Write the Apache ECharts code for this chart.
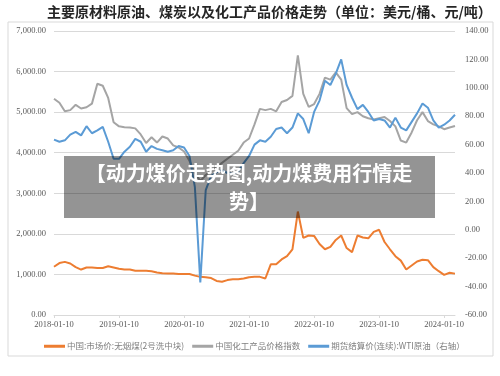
<!DOCTYPE html>
<html>
<head>
<meta charset="utf-8">
<script src="https://cdn.jsdelivr.net/npm/echarts@6/dist/echarts.min.js"></script>
<style>
    html, body { margin: 0; padding: 0; background: #fff; }
    #chart { width: 500px; height: 376px; }
</style>
</head>
<body>
<div id="chart"></div>
<script>
// 月度数据 2018-01 ~ 2024-03
var months = [];
for (var y = 2018; y <= 2024; y++) {
    for (var m = 1; m <= 12; m++) {
        if (y == 2024 && m > 3) break;
        months.push(y + '-' + (m < 10 ? '0' + m : m) + '-10');
    }
}

// 无烟煤 (左轴)
var coal = [1190, 1280, 1310, 1270, 1180, 1120, 1170, 1170, 1160, 1160, 1200, 1170,
    1140, 1120, 1120, 1090, 1090, 1090, 1080, 1050, 1030, 1020, 1020, 1010,
    1010, 1010, 970, 940, 930, 910, 840, 820, 860, 880, 880, 900,
    930, 940, 940, 900, 1250, 1250, 1370, 1450, 1620, 2550, 1900, 1960,
    1950, 1750, 1620, 1680, 1850, 1960, 1650, 1550, 1960, 1910, 1890, 2050,
    2100, 1800, 1620, 1450, 1340, 1120, 1220, 1320, 1360, 1350, 1180, 1080,
    990, 1040, 1020];

// 化工产品价格指数 (左轴)
var chem = [5330, 5230, 5020, 5050, 5180, 5090, 5120, 5210, 5700, 5650, 5350, 4750,
    4650, 4630, 4620, 4600, 4450, 4240, 4380, 4250, 4400, 4350, 4180, 4130,
    4030, 3800, 3500, 3300, 3450, 3550, 3650, 3750, 3850, 3950, 4050, 4250,
    4350, 4700, 5080, 5050, 5080, 5020, 5250, 5300, 5400, 6400, 5450, 5130,
    5200, 5450, 5850, 5800, 5980, 5800, 5100, 4950, 5000, 4900, 4850, 4820,
    4850, 4880, 4780, 4650, 4300, 4250, 4500, 4800, 5000, 4780, 4700, 4650,
    4580, 4620, 4660];

// WTI原油 (右轴)
var wti = [63.5, 62, 63, 67, 69, 66.5, 73, 68, 70, 72.5, 62, 50,
    50, 55, 58.5, 64, 62, 55, 59, 57, 56, 55, 56, 59,
    58, 52, 30, -37, 28, 38, 40.5, 42, 40, 39.5, 41, 47,
    52, 60, 63, 62, 65.5, 71, 72, 68, 72, 82, 78, 68,
    83, 91, 105, 102, 110, 120, 102, 93, 85, 88, 83, 77,
    78, 77, 72, 79, 72, 70, 76, 82, 89, 86, 77, 72,
    74, 77, 81];

var seriesNames = ['中国:市场价:无烟煤(2号洗中块)', '中国化工产品价格指数', '期货结算价(连续):WTI原油（右轴）'];

var myChart;

window.onresize = function () {
    myChart.resize();
}

function fmt(v) {
    var s = Math.abs(v).toFixed(2).split('.');
    s[0] = s[0].replace(/\B(?=(\d{3})+(?!\d))/g, ',');
    return (v < 0 ? '-' : '') + s.join('.');
}

// 每年1月显示标签
function yearly(i) {
    return i % 12 === 0;
}

window.onload = function () {
    myChart = echarts.init(document.getElementById('chart'));

    var axisFont = {
        fontFamily: 'Liberation Serif',
        fontSize: 8.5,
        color: '#595959'
    };

    var option = {
        animation: false,
        backgroundColor: '#fff',
        color: ['#ED7D31', '#A5A5A5', '#5B9BD5'],
        graphic: [
            // 外框
            {
                type: 'rect',
                z: -10,
                shape: { x: 8, y: 22, width: 485, height: 334 },
                style: { fill: '#fff', stroke: '#d9d9d9', lineWidth: 1 }
            },
            // 标题
            {
                type: 'text',
                left: 47,
                top: 5,
                style: {
                    text: '主要原材料原油、煤炭以及化工产品价格走势（单位：美元/桶、元/吨）',
                    font: 'bold 14px "Noto Sans CJK SC"',
                    fill: '#262626'
                }
            },
            // 水印遮罩
            {
                type: 'rect',
                z: 100,
                shape: { x: 64, y: 156, width: 371, height: 62 },
                style: { fill: 'rgba(0,0,0,0.42)' }
            },
            {
                type: 'text',
                z: 101,
                x: 249,
                y: 173,
                style: {
                    text: '【动力煤价走势图,动力煤费用行情走',
                    font: 'bold 20px "Noto Sans CJK SC"',
                    fill: '#fff',
                    align: 'center',
                    verticalAlign: 'middle'
                }
            },
            {
                type: 'text',
                z: 101,
                x: 249,
                y: 201,
                style: {
                    text: '势】',
                    font: 'bold 20px "Noto Sans CJK SC"',
                    fill: '#fff',
                    align: 'center',
                    verticalAlign: 'middle'
                }
            }
        ],
        legend: {
            left: 39,
            top: 337,
            itemWidth: 21,
            itemHeight: 3,
            itemGap: 8,
            icon: 'rect',
            textStyle: {
                fontFamily: 'Noto Sans CJK SC',
                fontSize: 8.5,
                color: '#7f7f7f',
                padding: [0, 0, 0, -3]
            },
            data: seriesNames
        },
        grid: {
            left: 54,
            right: 45,
            top: 31,
            bottom: 61
        },
        xAxis: {
            type: 'category',
            data: months,
            boundaryGap: false,
            axisLine: { lineStyle: { color: '#d9d9d9' } },
            axisTick: { show: true, interval: yearly, length: 3, lineStyle: { color: '#d9d9d9' } },
            axisLabel: Object.assign({ interval: yearly, hideOverlap: false, margin: 5 }, axisFont),
            splitLine: { show: false }
        },
        yAxis: [{
            type: 'value',
            min: 0,
            max: 7000,
            interval: 1000,
            axisLine: { show: false },
            axisTick: { show: false },
            axisLabel: Object.assign({ formatter: fmt, margin: 8 }, axisFont),
            splitLine: { lineStyle: { color: '#d9d9d9' } }
        }, {
            type: 'value',
            min: -60,
            max: 140,
            interval: 20,
            axisLine: { show: false },
            axisTick: { show: false },
            axisLabel: Object.assign({ formatter: fmt, margin: 10 }, axisFont),
            splitLine: { show: false }
        }],
        series: [{
            name: seriesNames[0],
            type: 'line',
            yAxisIndex: 0,
            symbol: 'none',
            lineStyle: { width: 2 },
            data: coal
        }, {
            name: seriesNames[1],
            type: 'line',
            yAxisIndex: 0,
            symbol: 'none',
            lineStyle: { width: 2 },
            data: chem
        }, {
            name: seriesNames[2],
            type: 'line',
            yAxisIndex: 1,
            symbol: 'none',
            lineStyle: { width: 2 },
            data: wti
        }]
    };

    myChart.setOption(option);
}
</script>
</body>
</html>
